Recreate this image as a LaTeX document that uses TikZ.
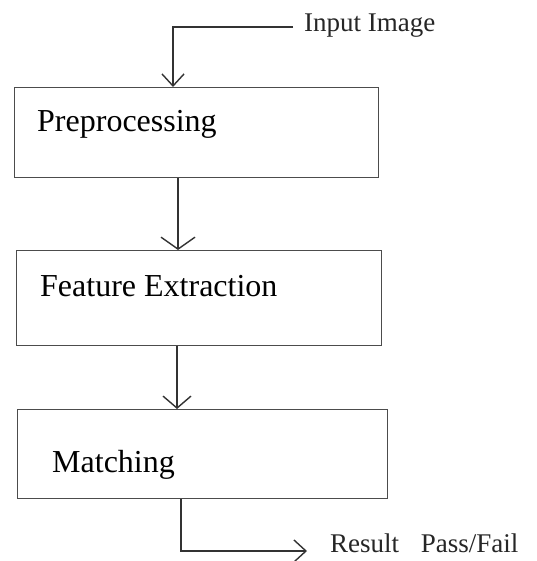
\documentclass[tikz,border=0pt]{standalone}
\usepackage{fontspec}
\setmainfont{Liberation Serif}
\usetikzlibrary{arrows.meta}
\begin{document}
\begin{tikzpicture}[x=1pt,y=-1pt,
  boxst/.style={draw=black!70, line width=1.4pt, rectangle, inner sep=0pt, anchor=north west},
  boxtxt/.style={inner sep=0pt, anchor=base west, font=\fontsize{32}{38}\selectfont},
  outtxt/.style={inner sep=0pt, anchor=base west, font=\fontsize{27}{32}\selectfont, text=black!85},
  conn/.style={draw=black!80, line width=1.4pt},
  arr/.style={conn, -{Straight Barb[length=12pt, width=#1, line width=1.4pt]}},
  arr/.default=26pt]
\useasboundingbox (0,0) rectangle (536,561);
\fill[white] (0,0) rectangle (536,561);

\node[boxst, minimum width=364pt, minimum height=90pt] (pre) at (14,87) {};
\node[boxst, minimum width=365pt, minimum height=95pt] (feat) at (16,250) {};
\node[boxst, minimum width=370pt, minimum height=89pt] (match) at (17,409) {};

\node[boxtxt] (pretxt) at (37,132) {Preprocessing};
\node[boxtxt] (feattxt) at (40,296) {Feature Extraction};
\node[boxtxt] (matchtxt) at (52,472) {Matching};

\node[outtxt] (intxt) at (304,32) {Input Image};
\node[outtxt] (restxt) at (330,552) {Result\hspace{0.8em}Pass/Fail};

\coordinate (instart) at (293,27);
\coordinate (resend) at (307,551);

\draw[arr=22pt] (instart) -| ([xshift=159pt]pre.north west);
\draw[arr=34pt] ([xshift=164pt]pre.south west) -- ([xshift=162pt]feat.north west);
\draw[arr=28pt] ([xshift=161pt]feat.south west) -- ([xshift=160pt]match.north west);
\draw[arr=22pt] ([xshift=164pt]match.south west) |- (resend);
\end{tikzpicture}
\end{document}
